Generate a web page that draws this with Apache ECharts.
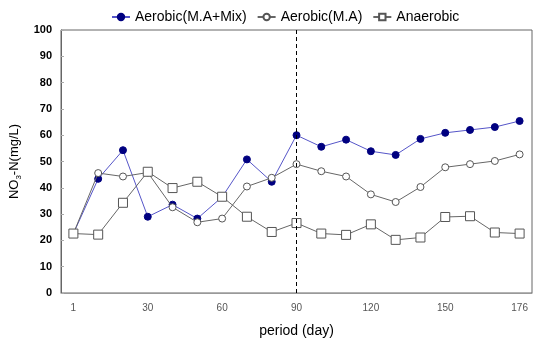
<!DOCTYPE html>
<html>
<head>
<meta charset="utf-8">
<script src="https://cdn.jsdelivr.net/npm/echarts@6/dist/echarts.min.js"></script>
<style>html,body{margin:0;padding:0;background:#fff;}#c{width:533px;height:341px;}</style>
</head>
<body>
<div id="c"></div>
<script>
var days = ['1','10','20','30','40','50','60','70','80','90','100','110','120','130','140','150','160','170','176'];
var shownLabels = ['1','30','60','90','120','150','176'];
var mixValues = [22.6,43.4,54.3,29.0,33.6,28.3,36.5,50.8,42.3,60.0,55.6,58.3,53.9,52.5,58.6,60.9,62.0,63.1,65.4];
var maValues = [22.6,45.6,44.3,45.8,32.6,26.9,28.3,40.5,43.8,49.0,46.3,44.3,37.5,34.6,40.3,47.8,49.0,50.2,52.7];
var anaValues = [22.6,22.2,34.3,46.1,39.9,42.3,36.6,29.0,23.2,26.6,22.6,22.1,26.1,20.2,21.1,28.9,29.2,23.0,22.6];
var markerDay = '90';
var yTicks = [0,10,20,30,40,50,60,70,80,90,100];

var chart = echarts.init(document.getElementById('c'));
var font = 'Arial, "Liberation Sans", sans-serif';
chart.setOption({
  animation: false,
  textStyle: {fontFamily: font},
  legend: {
    top: 5, left: 106,
    itemWidth: 18, itemHeight: 8, itemGap: 10,
    textStyle: {fontSize: 14, color: '#000', fontFamily: font},
    data: ['Aerobic(M.A+Mix)','Aerobic(M.A)','Anaerobic']
  },
  grid: {left: 61, right: 1, top: 30, bottom: 48, outerBoundsMode: 'none', containLabel: false,
         show: true, borderColor: '#666', borderWidth: 1, backgroundColor: 'transparent'},
  xAxis: {
    type: 'category', data: days, boundaryGap: true,
    name: 'period (day)', nameLocation: 'middle', nameGap: 31,
    nameTextStyle: {fontSize: 14, color: '#000', fontFamily: font},
    axisLine: {lineStyle: {color: '#999', width: 1}},
    axisTick: {inside: true, length: 3, lineStyle: {color: '#333'}, interval: 0},
    axisLabel: {
      color: '#555', fontSize: 10, margin: 10, fontFamily: font,
      interval: function (i, v) { return shownLabels.indexOf(v) >= 0; }
    },
    splitLine: {show: false}
  },
  yAxis: {
    type: 'value', min: yTicks[0], max: yTicks[yTicks.length-1], interval: 10,
    name: '{a|NO}{s|3}{a|-N(mg/L)}', nameLocation: 'middle', nameGap: 35, nameRotate: 90,
    nameTextStyle: {
      rich: {
        a: {fontSize: 13, color: '#000', fontFamily: font, lineHeight: 16, verticalAlign: 'middle'},
        s: {fontSize: 8, color: '#000', fontFamily: font, lineHeight: 16, verticalAlign: 'bottom', padding: [6,0,0,0]}
      }
    },
    axisLine: {show: true, lineStyle: {color: '#666', width: 1}},
    axisTick: {show: true, inside: true, length: 3, lineStyle: {color: '#aaa'}},
    axisLabel: {color: '#000', fontSize: 11, fontWeight: 'bold', margin: 9, fontFamily: font},
    splitLine: {show: false}
  },
  series: [
    {
      name: 'Aerobic(M.A+Mix)', type: 'line', data: mixValues,
      symbol: 'circle', symbolSize: 7,
      lineStyle: {color: '#5555c8', width: 1},
      itemStyle: {color: '#000080', borderColor: '#000080', borderWidth: 1},
      z: 2,
      markLine: {
        silent: true, symbol: 'none', label: {show: false},
        lineStyle: {color: '#000', type: [4,3], width: 1},
        data: [{xAxis: markerDay}]
      }
    },
    {
      name: 'Aerobic(M.A)', type: 'line', data: maValues,
      symbol: 'circle', symbolSize: 7,
      lineStyle: {color: '#666', width: 1},
      itemStyle: {color: '#fff', borderColor: '#555', borderWidth: 1},
      z: 3
    },
    {
      name: 'Anaerobic', type: 'line', data: anaValues,
      symbol: 'rect', symbolSize: 9,
      lineStyle: {color: '#666', width: 1},
      itemStyle: {color: '#fff', borderColor: '#555', borderWidth: 1},
      z: 4
    }
  ]
});
</script>
</body>
</html>
